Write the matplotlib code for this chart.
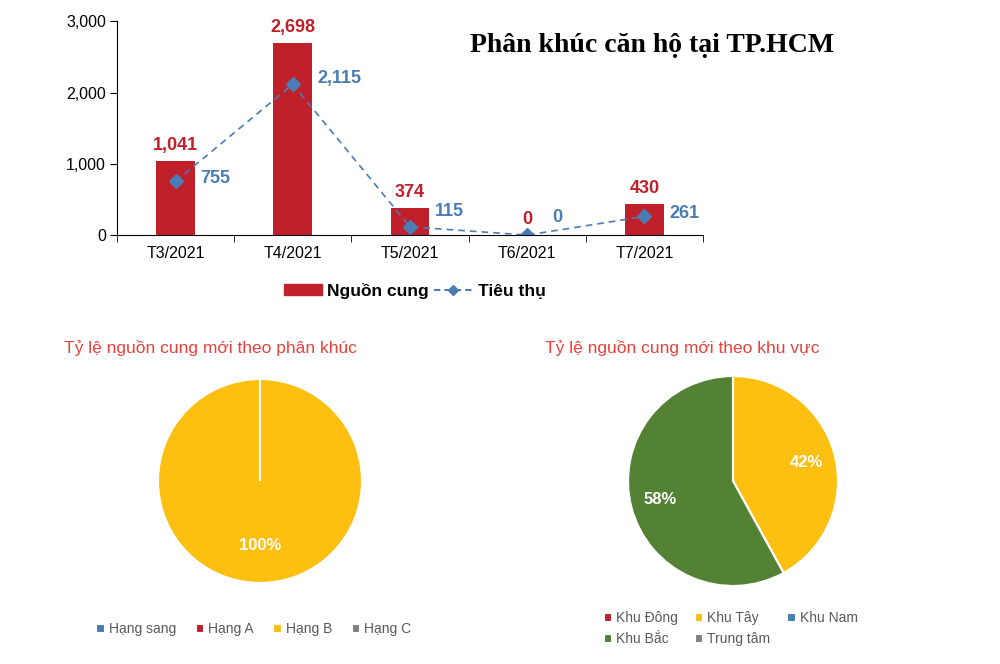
import numpy as np
import matplotlib.pyplot as plt
from matplotlib.patches import Patch
from matplotlib.lines import Line2D

plt.rcParams['font.family'] = ['Liberation Sans', 'DejaVu Sans']

# top chart data
months = ["T3/2021", "T4/2021", "T5/2021", "T6/2021", "T7/2021"]
nguon_cung = [1041, 2698, 374, 0, 430]
tieu_thu = [755, 2115, 115, 0, 261]

# pie data
phan_khuc = ["Hạng sang", "Hạng A", "Hạng B", "Hạng C"]
phan_khuc_pct = [0, 0, 100, 0]
khu_vuc = ["Khu Đông", "Khu Tây", "Khu Nam", "Khu Bắc", "Trung tâm"]
khu_vuc_pct = [0, 42, 0, 58, 0]

RED = "#C0202A"
BLUE = "#4A7DB3"
YELLOW = "#FDC010"
GREEN = "#548235"
GREY = "#808080"
LBLUE = "#4A7DB3"
TITLE_RED = "#E8413C"

# small vertical nudges (points) for the blue labels, like excel does
blue_dy = [0, 2, 9, 11, 0]

fig = plt.figure(figsize=(10, 6.64), dpi=100)

# ---- bar + line chart
ax = fig.add_axes([0.117, 0.646, 0.586, 0.322])
x = np.arange(len(months))
ax.bar(x, nguon_cung, width=0.33, color=RED, label="Nguồn cung")
ax.plot(x, tieu_thu, color=BLUE, linestyle=(0, (4, 3)), linewidth=1.2,
        marker="D", markersize=7, label="Tiêu thụ")
ax.set_xlim(-0.5, len(months) - 0.5)
ax.set_ylim(0, 3000)
ax.set_yticks([0, 1000, 2000, 3000])
ax.set_yticklabels(["0", "1,000", "2,000", "3,000"], fontsize=11.5)
ax.set_xticks(x)
ax.set_xticklabels(months, fontsize=11.5)
ax.set_xticks(np.arange(-0.5, len(months)), minor=True)
ax.tick_params(axis="x", which="major", length=0, pad=8)
ax.tick_params(axis="x", which="minor", length=5, color="black")
ax.tick_params(axis="y", length=5, pad=3)
for side in ["top", "right"]:
    ax.spines[side].set_visible(False)

for i, v in enumerate(nguon_cung):
    ax.annotate(f"{v:,}", (i, v), xytext=(0, 5), textcoords="offset points",
                ha="center", va="bottom", color=RED, fontsize=13,
                fontweight="bold")
for i, v in enumerate(tieu_thu):
    ax.annotate(f"{v:,}", (i, v), xytext=(18, 2 + blue_dy[i]),
                textcoords="offset points", ha="left", va="center",
                color=BLUE, fontsize=13, fontweight="bold")

leg_handles = [Patch(color=RED),
               Line2D([], [], color=BLUE, linestyle=(0, (3, 2)), marker="D",
                      markersize=5)]
ax.legend(leg_handles, ["Nguồn cung", "Tiêu thụ"], loc="center",
          bbox_to_anchor=(0.508, -0.26), ncol=2, frameon=False,
          handlelength=2.2, handleheight=0.55, columnspacing=0.3,
          handletextpad=0.3, prop={"weight": "bold", "size": 12.5})

fig.text(0.652, 0.932, "Phân khúc căn hộ tại TP.HCM", ha="center",
         va="center", fontsize=20, fontweight="bold",
         family=["Liberation Serif", "DejaVu Serif"])

# ---- left pie
ax1 = fig.add_axes([0.157, 1 - 584 / 664, 0.206, 206 / 664])
w1, _, t1 = ax1.pie(phan_khuc_pct, colors=[LBLUE, RED, YELLOW, GREY],
                    startangle=90, counterclock=False,
                    autopct=lambda p: f"{p:.0f}%" if p > 0 else "",
                    pctdistance=0.63,
                    wedgeprops={"edgecolor": "white", "linewidth": 1.5})
for t in t1:
    t.set_color("white")
    t.set_fontsize(12)
    t.set_fontweight("bold")
ax1.set_xlim(-1.01, 1.01)
ax1.set_ylim(-1.01, 1.01)
ax1.set_aspect("equal")
ax1.legend(w1, phan_khuc, loc="center", bbox_to_anchor=(0.47, -0.22),
           ncol=4, frameon=False, handlelength=0.6, handleheight=0.6,
           handletextpad=0.3, columnspacing=1.4,
           labelcolor="#595959", prop={"size": 10})
fig.text(0.21, 1 - 348 / 664, "Tỷ lệ nguồn cung mới theo phân khúc",
         ha="center", va="center", color=TITLE_RED, fontsize=12.5)

# ---- right pie
ax2 = fig.add_axes([0.627, 1 - 587 / 664, 0.212, 212 / 664])
w2, _, t2 = ax2.pie(khu_vuc_pct, colors=[RED, YELLOW, LBLUE, GREEN, GREY],
                    startangle=90, counterclock=False,
                    autopct=lambda p: f"{p:.0f}%" if p > 0 else "",
                    pctdistance=0.72,
                    wedgeprops={"edgecolor": "white", "linewidth": 1.5})
for t in t2:
    t.set_color("white")
    t.set_fontsize(12)
    t.set_fontweight("bold")
ax2.set_xlim(-1.01, 1.01)
ax2.set_ylim(-1.01, 1.01)
ax2.set_aspect("equal")
# legend is filled by columns, so reorder to read row by row
order = [0, 3, 1, 4, 2]
ax2.legend([w2[k] for k in order], [khu_vuc[k] for k in order],
           loc="upper left", bbox_to_anchor=(-0.168, -0.055),
           ncol=3, frameon=False, handlelength=0.6, handleheight=0.6,
           handletextpad=0.3, columnspacing=1.2, labelspacing=0.5,
           labelcolor="#595959", prop={"size": 10})
fig.text(0.682, 1 - 348 / 664, "Tỷ lệ nguồn cung mới theo khu vực",
         ha="center", va="center", color=TITLE_RED, fontsize=12.5)

fig.savefig("out.png", dpi=100)
